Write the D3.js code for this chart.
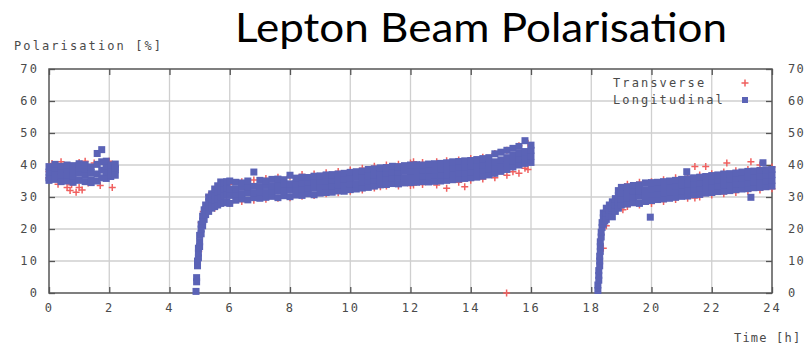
<!DOCTYPE html>
<html>
<head>
<meta charset="utf-8">
<script src="https://cdn.jsdelivr.net/npm/d3@7"></script>
<style>
  body { margin: 0; background: #fff; }
  .mono { font-family: "DejaVu Sans Mono", monospace; font-size: 12px; letter-spacing: 2.1px; fill: #4a4a4a; }
  .mono.tight { letter-spacing: 1.2px; }
</style>
</head>
<body>
<svg id="plot" width="807" height="346"></svg>
<script>
// tick labels
const xTicks = [0, 2, 4, 6, 8, 10, 12, 14, 16, 18, 20, 22, 24];
const yTicks = [0, 10, 20, 30, 40, 50, 60, 70];

// Longitudinal polarisation: [time (h), [values (%)]]
const longitudinalRows = [
    [0.0, [36.0, 37.8, 39.5, 35.2]], [0.2, [35.5, 37.2, 39.0, 40.2]], [0.4, [36.2, 38.0, 39.6, 34.8]],
    [0.6, [35.0, 37.0, 38.8, 40.0]], [0.8, [34.6, 36.5, 38.2, 39.8]], [1.0, [35.2, 37.4, 39.2, 40.4]],
    [1.2, [34.8, 36.8, 38.6, 40.1]], [1.4, [35.4, 37.6, 39.4, 34.5]], [1.6, [35.0, 37.2, 40.2, 43.6]],
    [1.75, [36.0, 38.4, 41.0, 44.8]], [1.9, [35.8, 37.8, 39.6, 41.2]], [2.05, [36.4, 38.2, 40.0, 37.0]],
    [2.2, [36.8, 38.5, 40.3, 39.0]],
    [4.88, [0.5]], [4.9, [3.5, 4.8]], [4.93, [8.5, 10]], [4.96, [11, 12.5, 14]], [5.0, [14.5, 16, 18]],
    [5.05, [18.5, 20, 21.5]], [5.1, [21, 22.5, 24]], [5.15, [23, 24.5, 26]], [5.2, [24.5, 26, 27.5]],
    [5.3, [25.5, 27, 28.5, 30]], [5.4, [26.5, 28, 29.5, 31]], [5.5, [27, 29, 30.5, 32.5]],
    [5.6, [27.5, 29.5, 31.5, 33.5]], [5.7, [28, 30, 32, 34.7]], [5.8, [28.2, 30.5, 32.5, 34.5]],
    [5.9, [28.5, 30.8, 32.8, 34.8]], [6.0, [28.0, 30.5, 32.5, 35.0]],
    [6.2, [29.0, 30.9, 32.5, 34.6]], [6.4, [29.4, 31.0, 33.0, 34.4]], [6.6, [29.1, 31.3, 33.1, 35.0]],
    [6.8, [29.8, 31.2, 33.3, 37.8]], [7.0, [29.6, 31.6, 33.2, 35.2]], [7.2, [29.9, 31.4, 33.6, 35.0]],
    [7.4, [30.2, 31.9, 33.5, 35.5]], [7.6, [29.8, 32.0, 33.9, 35.6]], [7.8, [30.4, 32.2, 34.0, 35.4]],
    [8.0, [30.1, 32.3, 34.1, 36.8]], [8.2, [30.6, 32.2, 34.2, 35.9]], [8.4, [30.5, 32.6, 34.3, 36.2]],
    [8.6, [31.0, 32.7, 34.6, 36.1]], [8.8, [30.7, 32.8, 34.8, 36.5]], [9.0, [31.2, 33.0, 34.9, 36.6]],
    [9.2, [31.4, 33.3, 35.0, 36.9]], [9.4, [31.5, 33.4, 35.3, 37.0]], [9.6, [31.9, 33.6, 35.4, 37.2]],
    [9.8, [31.8, 33.9, 35.6, 37.4]], [10.0, [32.3, 34.0, 35.8, 37.7]], [10.2, [32.5, 34.2, 36.2, 37.9]],
    [10.4, [32.8, 34.6, 36.4, 38.1]], [10.6, [33.0, 34.9, 36.7, 38.6]], [10.8, [33.4, 35.2, 37.0, 38.8]],
    [11.0, [33.8, 35.5, 37.3, 39.1]], [11.2, [33.9, 35.8, 37.5, 39.2]], [11.4, [34.2, 35.9, 37.7, 39.6]],
    [11.6, [34.1, 36.1, 37.8, 39.5]], [11.8, [34.4, 36.0, 38.0, 39.8]], [12.0, [34.5, 36.3, 38.1, 40.0]],
    [12.2, [34.6, 36.4, 38.2, 40.1]], [12.4, [34.8, 36.5, 38.4, 40.0]], [12.6, [34.7, 36.7, 38.4, 40.3]],
    [12.8, [34.9, 36.8, 38.5, 40.4]], [13.0, [35.0, 36.8, 38.7, 40.5]], [13.2, [35.2, 37.0, 38.9, 40.7]],
    [13.4, [35.4, 37.2, 39.0, 41.0]], [13.6, [35.6, 37.4, 39.3, 41.1]], [13.8, [35.8, 37.6, 39.5, 41.3]],
    [14.0, [36.0, 37.8, 39.6, 41.4]], [14.2, [36.2, 38.0, 39.8, 41.7]], [14.4, [36.5, 38.3, 40.1, 42.0]],
    [14.6, [36.9, 38.7, 40.5, 42.3]], [14.8, [37.4, 39.2, 41.0, 43.5]], [15.0, [38.0, 39.8, 41.6, 44.0]],
    [15.2, [38.6, 40.5, 42.3, 44.6]], [15.4, [39.4, 41.2, 43.0, 45.2]], [15.6, [40.0, 41.8, 43.6, 45.8]],
    [15.8, [40.5, 42.3, 44.2, 47.6]], [16.0, [40.8, 42.8, 44.6, 46.2]],
    [18.22, [0.8, 2.5]], [18.25, [4, 5.5, 7]], [18.28, [8.5, 10, 11.5]], [18.3, [13, 14.5, 16]],
    [18.33, [17.5, 19]], [18.36, [20.5, 22]], [18.4, [21.5, 23.5, 25]], [18.45, [22.5, 24.5]],
    [18.5, [23, 25, 26.5]], [18.6, [24, 26, 27.5]], [18.7, [23.8, 26.5, 28.5]], [18.8, [25.5, 27.5, 29.5]],
    [18.9, [26.5, 28.5, 30.5, 32]], [19.0, [27.5, 29.5, 31.2, 33.0]],
    [19.2, [27.8, 29.6, 31.4, 33.2]], [19.4, [28.2, 30.0, 31.8, 33.6]], [19.6, [28.0, 30.2, 32.0, 33.8]],
    [19.8, [28.6, 30.4, 32.3, 34.4]], [19.96, [23.7]], [20.0, [28.9, 30.8, 32.6, 34.5]],
    [20.2, [29.2, 31.0, 32.7, 34.6]], [20.4, [29.4, 31.2, 32.9, 34.8]], [20.6, [29.6, 31.5, 33.2, 35.0]],
    [20.8, [29.9, 31.7, 33.5, 35.2]], [21.0, [30.2, 32.0, 33.7, 35.5]], [21.17, [37.9]],
    [21.2, [30.3, 32.2, 34.0, 35.7]], [21.4, [30.7, 32.5, 34.2, 36.0]], [21.6, [30.8, 32.7, 34.5, 36.2]],
    [21.8, [31.2, 33.0, 34.8, 36.4]], [22.0, [31.4, 33.2, 35.0, 36.7]], [22.2, [31.7, 33.4, 35.2, 36.9]],
    [22.4, [31.8, 33.6, 35.4, 37.2]], [22.6, [32.0, 33.8, 35.6, 37.3]], [22.8, [32.3, 34.0, 35.8, 37.5]],
    [23.0, [32.5, 34.2, 36.0, 37.8]], [23.2, [32.6, 34.4, 36.2, 38.0]], [23.3, [29.9]],
    [23.4, [32.9, 34.6, 36.4, 38.1]], [23.6, [33.0, 34.8, 36.6, 38.3]], [23.7, [40.7]],
    [23.8, [33.2, 35.0, 36.8, 38.5]], [24.0, [33.4, 35.2, 37.0, 38.6]]
];

// Transverse polarisation: [time (h), [values (%)]]
const transverseRows = [
    [0.0, [38, 36]], [0.1, [40.5]], [0.3, [34]], [0.4, [41]], [0.6, [33]], [0.7, [32]], [0.75, [33.8]],
    [0.9, [31.5]], [1.0, [33.0, 40.8]], [1.1, [32.2]], [1.2, [41.2]], [1.3, [34.4]], [1.5, [40.6]],
    [1.7, [33.6]], [1.9, [36.2]], [2.0, [41.2]], [2.1, [33.0, 36.6]], [2.2, [39.5]],
    [4.97, [13]], [5.05, [22]], [5.12, [25.5]], [5.3, [30.5]], [5.5, [26.5]], [5.7, [33.5]],
    [6.0, [28.0, 34.0]], [6.4, [28.6, 34.8]], [6.8, [29.0, 35.3]], [7.2, [29.3, 35.8]], [7.6, [29.6, 36.2]],
    [8.0, [29.8, 36.5]], [8.4, [30.2, 37.0]], [8.8, [30.5, 37.2]], [9.2, [31.0, 37.6]], [9.6, [31.3, 38.0]],
    [10.0, [31.8, 38.4]], [10.4, [32.2, 39.0]], [10.8, [32.8, 39.6]], [11.0, [33.2]], [11.2, [33.4, 40.0]],
    [11.6, [33.4, 40.2]], [12.0, [33.6, 40.6]], [12.1, [33.75, 41]], [12.4, [33.9, 40.8]], [12.87, [33.75, 41.0]],
    [13.2, [32.7, 41.3]], [13.6, [34.6, 41.6]], [13.8, [33.2]], [14.0, [35.2, 42.0]], [14.4, [35.6, 42.4]],
    [14.8, [36.0, 43.6]], [15.19, [0]], [15.2, [36.8, 44.6]], [15.4, [37.9]], [15.6, [37.4, 46.0]],
    [15.8, [39]], [15.9, [38.6, 46.8]],
    [18.4, [14]], [18.5, [21]], [18.55, [24.5]], [18.75, [27]], [18.95, [29]], [19.05, [26]], [19.12, [33.2]],
    [19.2, [27.0, 34.0]], [19.6, [27.5, 34.6]], [20.0, [28.0, 34.8]], [20.4, [28.6, 35.4]], [20.8, [29.2, 36.0]],
    [21.2, [29.6, 36.4]], [21.44, [39.5, 29.7]], [21.6, [30.0, 36.9]], [21.8, [39.5]], [22.0, [30.6, 37.3]],
    [22.4, [31.0, 37.8]], [22.5, [40.6]], [22.8, [31.4, 38.2]], [23.2, [31.8, 38.6]], [23.3, [41]],
    [23.6, [32.2, 40.0]], [24.0, [32.6, 39.4]]
];

const seriesNames = ['Transverse', 'Longitudinal'];

function flatten(rows) {
    var pts = [];
    rows.forEach(function(r) {
        r[1].forEach(function(v) { pts.push({t: r[0], v: v}); });
    });
    return pts;
}

function draw() {
    let svg = d3.select('#plot');

    let margin = {top: 69, right: 35, bottom: 53, left: 49},
        width = +svg.attr('width') - margin.left - margin.right,
        height = +svg.attr('height') - margin.top - margin.bottom;

    let x = d3.scaleLinear().domain([0, 24]).range([0, width]);
    let y = d3.scaleLinear().domain([0, 70]).range([height, 0]);

    let g = svg.append('g')
        .attr('transform', 'translate(' + margin.left + ',' + margin.top + ')');

    // grid
    let grid = g.append('g').attr('stroke', '#cfcfcf').attr('stroke-width', 1.3);
    grid.selectAll('.gx').data(xTicks.slice(1, -1)).enter().append('line')
        .attr('x1', d => x(d)).attr('x2', d => x(d))
        .attr('y1', 0).attr('y2', height);
    grid.selectAll('.gy').data(yTicks.slice(1, -1)).enter().append('line')
        .attr('x1', 0).attr('x2', width)
        .attr('y1', d => y(d)).attr('y2', d => y(d));

    // axes with inward ticks on all four sides
    function styleAxis(sel) {
        sel.selectAll('.domain').remove();
        sel.selectAll('.tick line').attr('stroke', '#555').attr('stroke-width', 1.3);
        sel.selectAll('.tick text').attr('class', 'mono').attr('fill', null);
        sel.attr('font-family', null).attr('font-size', null);
    }

    g.append('g')
        .attr('transform', 'translate(0,' + height + ')')
        .call(d3.axisBottom(x).tickValues(xTicks).tickSize(-6).tickPadding(10).tickFormat(d3.format('d')))
        .call(styleAxis);

    g.append('g')
        .call(d3.axisTop(x).tickValues(xTicks).tickSize(-6).tickFormat(''))
        .call(styleAxis);

    g.append('g')
        .call(d3.axisLeft(y).tickValues(yTicks).tickSize(-6).tickPadding(10).tickFormat(d3.format('d')))
        .call(styleAxis);

    // right-hand labels sit against the page edge
    g.append('g')
        .attr('transform', 'translate(' + width + ',0)')
        .call(d3.axisRight(y).tickValues(yTicks).tickSize(-6).tickPadding(16).tickFormat(d3.format('d')))
        .call(styleAxis)
        .selectAll('.tick text').attr('class', 'mono tight');

    g.append('rect')
        .attr('width', width).attr('height', height)
        .attr('fill', 'none').attr('stroke', '#555').attr('stroke-width', 1.5);

    // transverse: red plus signs
    let plus = 'M-3.5,0H3.5M0,-3.5V3.5';
    g.append('g').selectAll('path')
        .data(flatten(transverseRows))
        .enter().append('path')
        .attr('d', plus)
        .attr('transform', d => 'translate(' + x(d.t) + ',' + y(d.v) + ')')
        .attr('stroke', '#f0605f').attr('stroke-width', 1.5).attr('fill', 'none');

    // longitudinal: blue squares
    g.append('g').selectAll('rect')
        .data(flatten(longitudinalRows))
        .enter().append('rect')
        .attr('x', d => x(d.t) - 3.5).attr('y', d => y(d.v) - 3.5)
        .attr('width', 7).attr('height', 7)
        .attr('fill', '#5b63b6');

    // legend
    let legend = g.append('g');
    legend.selectAll('text').data(seriesNames).enter().append('text')
        .attr('class', 'mono')
        .attr('x', 564).attr('y', (d, i) => 14 + i * 17)
        .attr('dy', '0.35em')
        .text(d => d);
    legend.append('path')
        .attr('d', plus).attr('transform', 'translate(696,14)')
        .attr('stroke', '#f0605f').attr('stroke-width', 1.5);
    legend.append('rect')
        .attr('x', 693).attr('y', 28).attr('width', 6).attr('height', 6)
        .attr('fill', '#5b63b6');

    // labels
    svg.append('text').attr('class', 'mono')
        .attr('x', 14).attr('y', 46).attr('dy', '0.35em')
        .text('Polarisation [%]');

    svg.append('text').attr('class', 'mono tight')
        .attr('x', 734).attr('y', 338).attr('dy', '0.35em')
        .text('Time [h]');

    svg.append('text')
        .attr('x', 235).attr('y', 42)
        .attr('textLength', 492).attr('lengthAdjust', 'spacingAndGlyphs')
        .style('font-family', 'Lato, "Open Sans", sans-serif')
        .style('font-size', '41px')
        .attr('fill', '#000')
        .text('Lepton Beam Polarisation');
}

draw();
</script>
</body>
</html>
